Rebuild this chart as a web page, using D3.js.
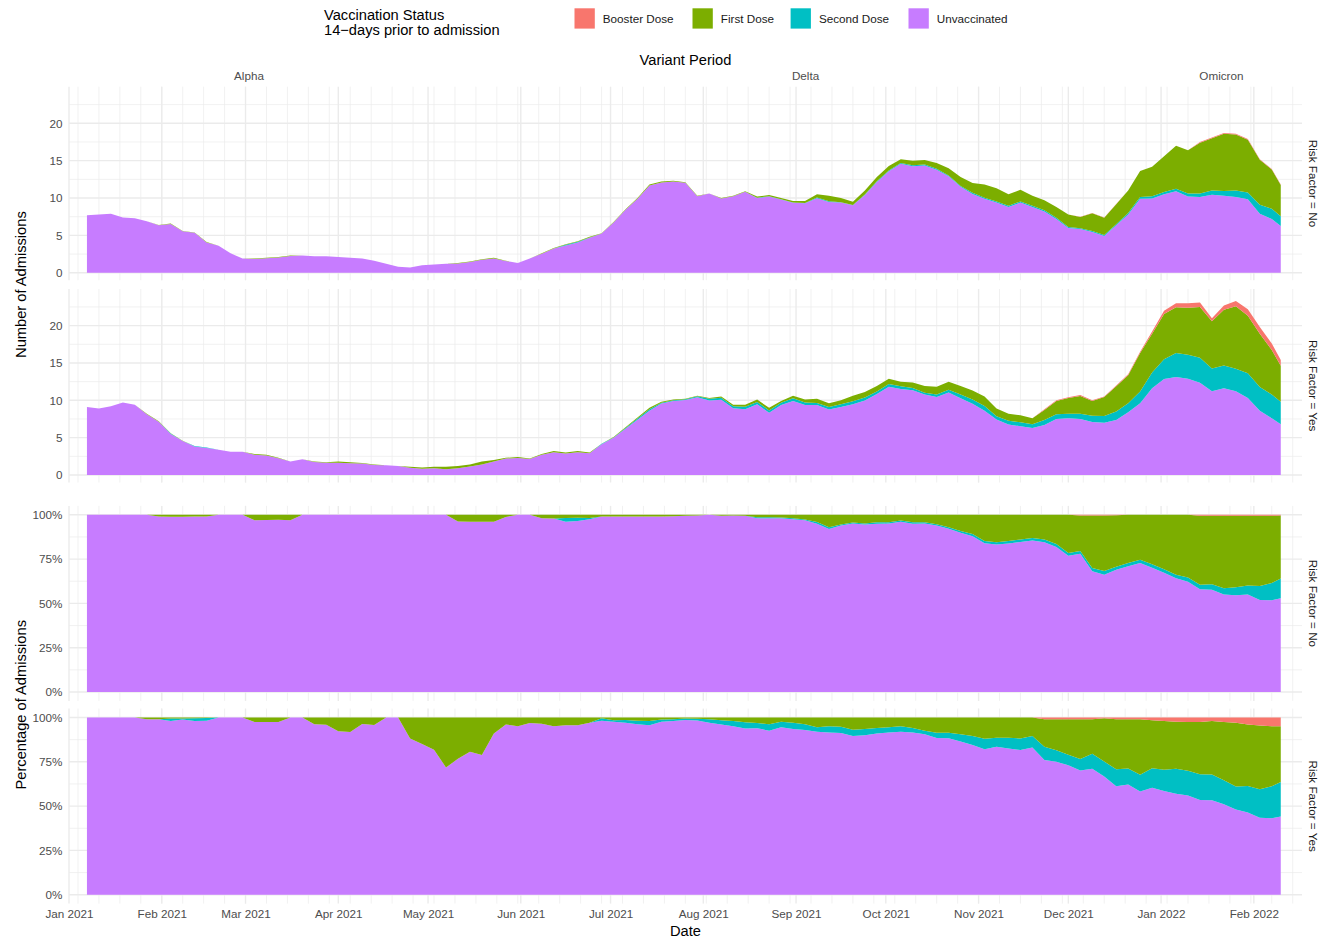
<!DOCTYPE html>
<html><head><meta charset="utf-8">
<script src="https://cdn.jsdelivr.net/npm/d3@7"></script>
<style>body{margin:0;background:#fff;} svg{display:block;font-family:"Liberation Sans",Arial,Helvetica,sans-serif;}</style>
</head><body><svg id="c" width="1321" height="939"></svg>
<script>
// ---------------- DATA ----------------
const dates = ["2021-01-07","2021-01-11","2021-01-15","2021-01-19","2021-01-23","2021-01-27","2021-01-31",
"2021-02-04","2021-02-08","2021-02-12","2021-02-16","2021-02-20","2021-02-24","2021-02-28",
"2021-03-04","2021-03-08","2021-03-12","2021-03-16","2021-03-20","2021-03-24","2021-03-28",
"2021-04-01","2021-04-05","2021-04-09","2021-04-13","2021-04-17","2021-04-21","2021-04-25","2021-04-29",
"2021-05-03","2021-05-07","2021-05-11","2021-05-15","2021-05-19","2021-05-23","2021-05-27","2021-05-31",
"2021-06-04","2021-06-08","2021-06-12","2021-06-16","2021-06-20","2021-06-24","2021-06-28",
"2021-07-02","2021-07-06","2021-07-10","2021-07-14","2021-07-18","2021-07-22","2021-07-26","2021-07-30",
"2021-08-03","2021-08-07","2021-08-11","2021-08-15","2021-08-19","2021-08-23","2021-08-27","2021-08-31",
"2021-09-04","2021-09-08","2021-09-12","2021-09-16","2021-09-20","2021-09-24","2021-09-28",
"2021-10-02","2021-10-06","2021-10-10","2021-10-14","2021-10-18","2021-10-22","2021-10-26","2021-10-30",
"2021-11-03","2021-11-07","2021-11-11","2021-11-15","2021-11-19","2021-11-23","2021-11-27",
"2021-12-01","2021-12-05","2021-12-09","2021-12-13","2021-12-17","2021-12-21","2021-12-25","2021-12-29",
"2022-01-02","2022-01-06","2022-01-10","2022-01-14","2022-01-18","2022-01-22","2022-01-26","2022-01-30",
"2022-02-03","2022-02-07","2022-02-10"];

const categories = ["Booster Dose","First Dose","Second Dose","Unvaccinated"];
const categoryColors = ["#F8766D","#7CAE00","#00BFC4","#C77CFF"];

// Risk Factor = No (counts)
const noUnvaccinated = [7.7,7.8,7.9,7.4,7.3,6.9,6.34,
6.53,5.54,5.35,4.06,3.6,2.6,1.9,
1.84,1.94,2.04,2.23,2.3,2.2,2.2,
2.1,2.0,1.9,1.6,1.2,0.8,0.7,1.0,
1.1,1.2,1.25,1.44,1.73,1.92,1.58,1.3,
1.9,2.55,3.23,3.65,4.05,4.68,5.25,
6.73,8.42,9.9,11.68,12.08,12.2,12.04,10.25,
10.6,9.95,10.25,10.84,10.0,10.2,9.8,9.36,
9.3,9.97,9.48,9.4,9.03,10.4,12.16,
13.59,14.6,14.25,14.35,13.8,12.9,11.5,10.55,
9.9,9.4,8.8,9.4,8.8,8.2,7.2,
6.0,5.85,5.45,4.9,6.35,7.8,9.9,9.95,
10.5,10.9,10.2,10.15,10.45,10.3,10.15,9.85,
7.9,7.2,6.25];
const noSecond = [0,0,0,0,0,0,0,
0,0,0,0,0,0,0,
0,0,0,0,0,0,0,
0,0,0,0,0,0,0,0,
0,0,0,0,0,0,0,0,
0,0,0,0.08,0.08,0.03,0,
0,0,0,0,0,0,0,0,
0,0,0,0,0.05,0.05,0.05,0.05,
0.05,0.1,0.1,0.05,0.05,0.06,0.1,
0.1,0.1,0.12,0.12,0.12,0.12,0.12,0.15,
0.15,0.15,0.15,0.15,0.15,0.15,0.15,
0.12,0.12,0.15,0.15,0.15,0.2,0.25,0.28,
0.3,0.35,0.4,0.45,0.55,0.65,0.85,0.9,
1.2,1.35,1.3];
const noFirst = [0,0,0,0,0,0,0.06,
0.07,0.06,0.05,0.04,0,0,0,
0.06,0.06,0.06,0.07,0,0,0,
0,0,0,0,0,0,0,0,
0,0,0.05,0.06,0.07,0.08,0.02,0,
0,0.05,0.07,0.07,0.07,0.09,0.05,
0.07,0.08,0.1,0.12,0.12,0.1,0.06,0.05,
0,0.05,0.05,0.06,0.15,0.15,0.15,0.19,
0.25,0.43,0.72,0.55,0.42,0.54,0.54,
0.61,0.5,0.63,0.63,0.78,0.98,1.18,1.3,
1.75,1.75,1.55,1.55,1.35,1.35,1.45,
1.68,1.5,2.37,2.32,2.67,3.0,3.45,3.97,
4.8,5.75,5.8,6.8,7.0,7.65,7.5,7.05,
6.02,5.28,4.2];
const noBooster = [0,0,0,0,0,0,0,
0,0,0,0,0,0,0,
0,0,0,0,0,0,0,
0,0,0,0,0,0,0,0,
0,0,0,0,0,0,0,0,
0,0,0,0,0,0,0,
0,0,0,0,0,0,0,0,
0,0,0,0,0,0,0,0,
0,0,0,0,0,0,0,
0,0,0,0,0,0,0,0,
0,0,0,0,0,0,0,
0,0.03,0.03,0.03,0.03,0,0,0,
0,0,0,0.1,0.1,0.1,0.1,0.1,
0.08,0.07,0.05];

// Risk Factor = Yes (counts)
const yesUnvaccinated = [9.1,8.9,9.2,9.7,9.4,8.12,7.13,
5.49,4.55,3.82,3.63,3.4,3.1,3.1,
2.73,2.63,2.24,1.8,2.1,1.73,1.63,
1.66,1.56,1.54,1.34,1.3,1.2,0.97,0.85,
0.9,0.79,0.92,1.13,1.42,1.82,2.21,2.28,
2.13,2.7,3.04,2.87,3.06,2.91,4.12,
4.98,6.21,7.41,8.6,9.56,9.9,10.05,10.42,
9.99,10.08,8.93,8.82,9.49,8.33,9.36,9.91,
9.38,9.38,8.78,9.12,9.49,9.99,10.83,
11.8,11.5,11.35,10.77,10.44,11.04,10.29,9.55,
8.61,7.43,6.77,6.53,6.31,6.69,7.5,
7.59,7.5,7.1,7.0,7.35,8.4,9.6,11.6,
12.87,13.11,12.88,12.36,11.2,11.6,11.2,10.3,
8.6,7.6,6.8];
const yesSecond = [0,0,0,0,0,0,0,
0.08,0.02,0.06,0.06,0,0,0,
0,0,0,0,0,0,0,
0,0,0,0,0,0,0,0,
0,0,0,0,0,0,0,0,
0,0,0,0,0,0,0.06,
0.04,0.1,0.15,0.22,0.13,0.1,0.09,0.11,
0.21,0.26,0.28,0.33,0.3,0.32,0.3,0.37,
0.33,0.26,0.34,0.35,0.37,0.39,0.36,
0.39,0.38,0.31,0.24,0.35,0.38,0.48,0.57,
0.63,0.45,0.49,0.52,0.49,0.66,0.65,
0.62,0.7,0.85,0.89,1.14,1.22,1.57,2.11,
2.64,3.22,3.22,3.35,3.05,3.06,3.03,3.33,
3.17,3.17,3.0];
const yesFirst = [0,0,0,0,0,0.08,0.07,
0.03,0.03,0.02,0.01,0,0,0,
0.07,0.07,0.06,0,0,0.07,0.07,
0.14,0.14,0.06,0.06,0,0,0.13,0.15,
0.2,0.31,0.28,0.27,0.38,0.18,0.09,0.12,
0.07,0.1,0.16,0.13,0.14,0.09,0.02,
0.08,0.09,0.14,0.18,0.11,0.1,0.06,0.07,
0.1,0.16,0.19,0.25,0.31,0.35,0.24,0.32,
0.39,0.56,0.48,0.53,0.74,0.72,0.71,
0.71,0.62,0.74,0.89,1.01,1.08,1.13,1.18,
1.26,1.02,0.94,0.95,0.8,1.36,1.75,
2.09,2.39,1.95,2.56,3.39,3.75,5.16,5.2,
6.04,6.12,6.3,6.79,6.33,7.47,8.37,7.68,
7.14,5.95,4.83];
const yesBooster = [0,0,0,0,0,0,0,
0,0,0,0,0,0,0,
0,0,0,0,0,0,0,
0,0,0,0,0,0,0,0,
0,0,0,0,0,0,0,0,
0,0,0,0,0,0,0,
0,0,0,0,0,0,0,0,
0,0,0,0,0,0,0,0,
0,0,0,0,0,0,0,
0,0,0,0,0,0,0,0,
0,0,0,0,0,0.09,0.1,
0.1,0.11,0.1,0.05,0.12,0.13,0.17,0.29,
0.45,0.55,0.6,0.6,0.42,0.57,0.7,0.89,
0.89,0.88,0.77];

const xTickDates = ["2021-01-01","2021-02-01","2021-03-01","2021-04-01","2021-05-01","2021-06-01","2021-07-01",
"2021-08-01","2021-09-01","2021-10-01","2021-11-01","2021-12-01","2022-01-01","2022-02-01"];
const variantLabels = ["Alpha","Delta","Omicron"];
const variantDates = ["2021-03-02","2021-09-04","2022-01-21"];
const countTicks = [0,5,10,15,20];
const countMinorTicks = [2.5,7.5,12.5,17.5,22.5];
const pctTicks = [0,0.25,0.5,0.75,1];
const pctMinorTicks = [0.125,0.375,0.625,0.875];
const riskLabels = ["Risk Factor = No","Risk Factor = Yes","Risk Factor = No","Risk Factor = Yes"];

// ---------------- LAYOUT ----------------
const svg = d3.select("#c");
const parse = d3.utcParse("%Y-%m-%d");
const PL = 69, PR = 1302;
const x = d3.scaleUtc().domain([parse("2021-01-01"), new Date(Date.UTC(2022,1,17,2,24))]).range([PL, PR]);
const gridCol = "#EBEBEB";
const axisTextCol = "#4D4D4D";

function rows(u,s,f,b){
  return dates.map((d,i)=>({date:parse(d),"Unvaccinated":u[i],"Second Dose":s[i],"First Dose":f[i],"Booster Dose":b[i]}));
}
const noRows = rows(noUnvaccinated,noSecond,noFirst,noBooster);
const yesRows = rows(yesUnvaccinated,yesSecond,yesFirst,yesBooster);
const stackKeys = ["Unvaccinated","Second Dose","First Dose","Booster Dose"];
const colorOf = d3.scaleOrdinal().domain(categories).range(categoryColors);

const panels = [
  {top:86.7,  bottom:280.2, type:"count", data:noRows},
  {top:289.0, bottom:482.5, type:"count", data:yesRows},
  {top:505.9, bottom:700.9, type:"pct",   data:noRows},
  {top:708.6, bottom:903.6, type:"pct",   data:yesRows}
];

const mondays = d3.utcMonday.range(x.domain()[0], x.domain()[1]);
const monthTicks = xTickDates.map(parse);

panels.forEach((p,pi)=>{
  const y = d3.scaleLinear()
    .domain(p.type==="count" ? [-1.0,24.9] : [-0.05,1.05])
    .range([p.bottom,p.top]);
  const g = svg.append("g");
  // minor grid
  g.selectAll(".vmin").data(mondays).join("line")
    .attr("x1",d=>x(d)).attr("x2",d=>x(d)).attr("y1",p.top).attr("y2",p.bottom)
    .attr("stroke",gridCol).attr("stroke-width",0.7);
  g.selectAll(".hmin").data(p.type==="count"?countMinorTicks:pctMinorTicks).join("line")
    .attr("x1",PL).attr("x2",PR).attr("y1",d=>y(d)).attr("y2",d=>y(d))
    .attr("stroke",gridCol).attr("stroke-width",0.7);
  // major grid
  g.selectAll(".vmaj").data(monthTicks).join("line")
    .attr("x1",d=>x(d)).attr("x2",d=>x(d)).attr("y1",p.top).attr("y2",p.bottom)
    .attr("stroke",gridCol).attr("stroke-width",1.4);
  g.selectAll(".hmaj").data(p.type==="count"?countTicks:pctTicks).join("line")
    .attr("x1",PL).attr("x2",PR).attr("y1",d=>y(d)).attr("y2",d=>y(d))
    .attr("stroke",gridCol).attr("stroke-width",1.4);

  // stacked areas
  const stack = d3.stack().keys(stackKeys);
  if (p.type==="pct") stack.offset(d3.stackOffsetExpand);
  const series = stack(p.data);
  const area = d3.area().x(d=>x(d.data.date)).y0(d=>y(d[0])).y1(d=>y(d[1]));
  g.selectAll(".area").data(series).join("path")
    .attr("d",area).attr("fill",d=>colorOf(d.key)).attr("stroke","none");

  // y axis
  const ax = d3.axisLeft(y)
    .tickValues(p.type==="count"?countTicks:pctTicks)
    .tickFormat(p.type==="count"?d3.format("d"):d3.format(".0%"))
    .tickSize(0).tickPadding(6.5);
  const ag = svg.append("g").attr("transform",`translate(${PL},0)`).call(ax);
  ag.select(".domain").remove();
  ag.selectAll("text").attr("fill",axisTextCol).style("font-size","11.7px").style("font-family","Liberation Sans, Arial, sans-serif");

  // right strip
  svg.append("text").attr("transform",`translate(1313,${(p.top+p.bottom)/2}) rotate(90)`)
    .attr("text-anchor","middle").attr("dy","0.35em")
    .style("font-size","11.7px").attr("fill","#1A1A1A").text(riskLabels[pi]);
});

// bottom x axis
const xa = d3.axisBottom(x).tickValues(monthTicks).tickFormat(d3.utcFormat("%b %Y")).tickSize(0).tickPadding(6);
const xg = svg.append("g").attr("transform",`translate(0,${panels[3].bottom})`).call(xa);
xg.select(".domain").remove();
xg.selectAll("text").attr("fill",axisTextCol).style("font-size","11.7px").style("font-family","Liberation Sans, Arial, sans-serif");

// top secondary axis (variant period)
const ta = d3.axisTop(x).tickValues(variantDates.map(parse)).tickFormat((d,i)=>variantLabels[i]).tickSize(0).tickPadding(6.5);
const tg = svg.append("g").attr("transform",`translate(0,${panels[0].top})`).call(ta);
tg.select(".domain").remove();
tg.selectAll("text").attr("fill",axisTextCol).style("font-size","11.7px").style("font-family","Liberation Sans, Arial, sans-serif");

// titles
const cx = (PL+PR)/2;
svg.append("text").attr("x",cx).attr("y",65).attr("text-anchor","middle").style("font-size","14.67px").attr("fill","#000").text("Variant Period");
svg.append("text").attr("x",cx).attr("y",936).attr("text-anchor","middle").style("font-size","14.67px").attr("fill","#000").text("Date");
svg.append("text").attr("transform",`translate(21,${(panels[0].top+panels[1].bottom)/2}) rotate(-90)`)
  .attr("text-anchor","middle").attr("dy","0.35em").style("font-size","14.67px").attr("fill","#000").text("Number of Admissions");
svg.append("text").attr("transform",`translate(21,${(panels[2].top+panels[3].bottom)/2}) rotate(-90)`)
  .attr("text-anchor","middle").attr("dy","0.35em").style("font-size","14.67px").attr("fill","#000").text("Percentage of Admissions");

// legend
const lt = svg.append("text").attr("x",324).style("font-size","14.67px").attr("fill","#000");
lt.append("tspan").attr("x",324).attr("y",20).text("Vaccination Status");
lt.append("tspan").attr("x",324).attr("y",35).text("14\u2212days prior to admission");
const legendKeyX = [574.5, 692.5, 790.6, 908.5];
const lg = svg.append("g");
categories.forEach((c,i)=>{
  lg.append("rect").attr("x",legendKeyX[i]).attr("y",8.3).attr("width",20.3).attr("height",20.3).attr("fill",categoryColors[i]);
  lg.append("text").attr("x",legendKeyX[i]+28.3).attr("y",18.5).attr("dy","0.35em")
    .style("font-size","11.7px").attr("fill","#1A1A1A").text(c);
});
</script></body></html>
